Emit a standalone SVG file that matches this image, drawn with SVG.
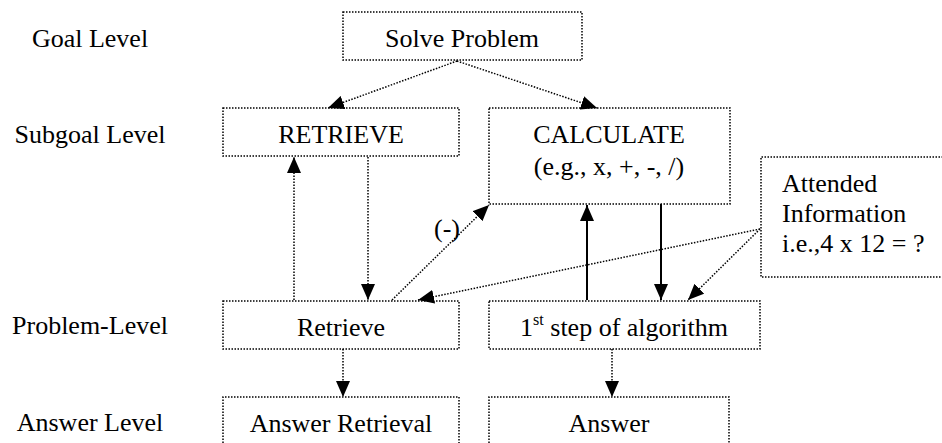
<svg xmlns="http://www.w3.org/2000/svg" width="942" height="443" viewBox="0 0 942 443">
<style>
text{font-family:"Liberation Serif","Times New Roman",serif;font-size:26px;fill:#000}
.c{text-anchor:middle}
.box{fill:none;stroke:#000;stroke-width:1.5;stroke-dasharray:1.5 1.5}
.dl{fill:none;stroke:#000;stroke-width:1.5;stroke-dasharray:1.5 1.5}
.sl{fill:none;stroke:#000;stroke-width:2}
</style>
<defs>
<marker id="ah" markerUnits="userSpaceOnUse" markerWidth="18" markerHeight="14" refX="16" refY="7" orient="auto">
<path d="M0,0 L16,7 L0,14 Z" fill="#000"/>
</marker>
</defs>
<g id="labels">
<text class="c" x="90" y="47">Goal Level</text>
<text class="c" x="90" y="143">Subgoal Level</text>
<text class="c" x="90" y="334">Problem-Level</text>
<text class="c" x="90" y="431">Answer Level</text>
</g>
<g id="solve">
<rect class="box" x="343" y="12" width="239" height="48"/>
<text class="c" x="462" y="47">Solve Problem</text>
</g>
<g id="retrieve-sub">
<rect class="box" x="223" y="108" width="236" height="48"/>
<text class="c" x="341" y="143">RETRIEVE</text>
</g>
<g id="calculate">
<rect class="box" x="489" y="108" width="241" height="96"/>
<text class="c" x="609" y="143">CALCULATE</text>
<text class="c" x="609" y="175">(e.g., x, +, -, /)</text>
</g>
<g id="attended">
<path class="box" d="M946,157 H761 V277 H946"/>
<text x="782" y="192">Attended</text>
<text x="782" y="222">Information</text>
<text x="782" y="252">i.e.,4 x 12 = ?</text>
</g>
<g id="retrieve-prob">
<rect class="box" x="223" y="301" width="236" height="48"/>
<text class="c" x="341" y="336">Retrieve</text>
</g>
<g id="step1">
<rect class="box" x="489" y="301" width="271" height="48"/>
<text class="c" x="624" y="336">1<tspan font-size="16" dy="-11">st</tspan><tspan dy="11"> step of algorithm</tspan></text>
</g>
<g id="answer-retrieval">
<path class="box" d="M223,446 V397 H459 V446"/>
<text class="c" x="341" y="432">Answer Retrieval</text>
</g>
<g id="answer">
<path class="box" d="M489,446 V397 H729 V446"/>
<text class="c" x="609" y="432">Answer</text>
</g>
<g id="connectors">
<line class="dl" x1="457" y1="61" x2="328" y2="108" marker-end="url(#ah)"/>
<line class="dl" x1="457" y1="61" x2="597" y2="108" marker-end="url(#ah)"/>
<line class="dl" x1="294" y1="300" x2="294" y2="157" marker-end="url(#ah)"/>
<line class="dl" x1="368" y1="157" x2="368" y2="300" marker-end="url(#ah)"/>
<line class="dl" x1="392" y1="300" x2="489" y2="205" marker-end="url(#ah)"/>
<line class="sl" x1="587" y1="300" x2="587" y2="205" marker-end="url(#ah)"/>
<line class="sl" x1="661" y1="204" x2="661" y2="300" marker-end="url(#ah)"/>
<line class="dl" x1="760" y1="229" x2="418" y2="300" marker-end="url(#ah)"/>
<line class="dl" x1="760" y1="229" x2="688" y2="300" marker-end="url(#ah)"/>
<line class="dl" x1="343" y1="349" x2="343" y2="397" marker-end="url(#ah)"/>
<line class="dl" x1="612" y1="349" x2="612" y2="397" marker-end="url(#ah)"/>
<text x="434" y="237" font-size="24">(-)</text>
</g>
</svg>
